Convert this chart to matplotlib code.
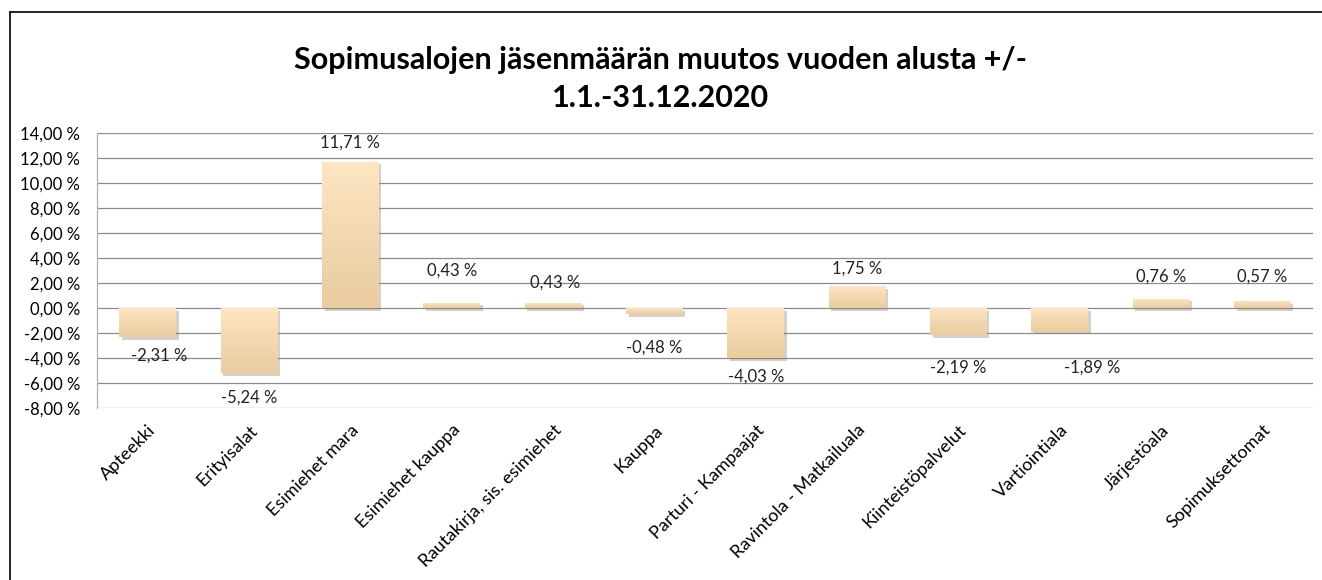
import numpy as np
import matplotlib.pyplot as plt
from matplotlib.lines import Line2D
from matplotlib.colors import LinearSegmentedColormap
import matplotlib.patheffects as pe

# ==========================================
# データ
# ==========================================
categories = ['Apteekki', 'Erityisalat', 'Esimiehet mara', 'Esimiehet kauppa',
              'Rautakirja, sis. esimiehet', 'Kauppa', 'Parturi - Kampaajat',
              'Ravintola - Matkailuala', 'Kiinteistöpalvelut', 'Vartiointiala',
              'Järjestöala', 'Sopimuksettomat']
values = [-2.31, -5.24, 11.71, 0.43, 0.43, -0.48, -4.03, 1.75, -2.19, -1.89, 0.76, 0.57]
y_ticks = [-8, -6, -4, -2, 0, 2, 4, 6, 8, 10, 12, 14]
title = 'Sopimusalojen jäsenmäärän muutos vuoden alusta +/-\n1.1.-31.12.2020'

# label nudges (pixels, relative to bar end)
label_dx = [12, 0, 0, 0, 2, 0, 1, 0, 0, 33, 0, 0]
label_dy = [-19, -24, 19, 32, 20, -34, -18, 18, -32, -36, 22, 24]

def fmt(v):
    return f'{v:.2f}'.replace('.', ',') + ' %'

plt.rcParams['font.family'] = ['Lato', 'DejaVu Sans']

fig = plt.figure(figsize=(13.22, 5.80), dpi=100)
ax = fig.add_axes([97/1322, 1-408/580, (1313-97)/1322, (408-133)/580])

x = np.arange(len(categories))
bw = 0.56
bars = ax.bar(x, values, width=bw, color='none', edgecolor='none', zorder=3)

cmap = LinearSegmentedColormap.from_list('peach', ['#fde6c3', '#e9cc9f'])
grad = np.linspace(0, 1, 256).reshape(-1, 1)
for b, v in zip(bars, values):
    x0 = b.get_x()
    top, bot = max(v, 0), min(v, 0)
    # 影付きの下地
    ax.bar(x0 + bw / 2, v, width=bw, color='#ffffff', zorder=2.9,
           path_effects=[pe.SimplePatchShadow(offset=(2, -2), shadow_rgbFace='#8a7a66', alpha=0.35)])
    im = ax.imshow(grad, cmap=cmap, aspect='auto', extent=(x0, x0 + bw, bot, top),
                   origin='upper', zorder=3)
    im.set_clip_path(b)

for i, v in enumerate(values):
    ax.annotate(fmt(v), (i, v), xytext=(label_dx[i], label_dy[i]), textcoords='offset pixels',
                ha='center', va='center', fontsize=12, color='#222222', zorder=5)

ax.set_xlim(-0.5, len(categories) - 0.5)
ax.set_ylim(-8, 14)
ax.set_yticks(y_ticks)
ax.set_yticklabels([fmt(t) for t in y_ticks], fontsize=12)
ax.set_xticks(x)
ax.set_xticklabels(categories, rotation=45, ha='right', rotation_mode='anchor', fontsize=13)
ax.tick_params(axis='both', length=0, pad=10)
ax.tick_params(axis='y', pad=12)
ax.yaxis.grid(True, color='#8c8c8c', linewidth=0.9, zorder=0)
ax.set_axisbelow(True)
for s in ['top', 'right', 'bottom']:
    ax.spines[s].set_visible(False)
ax.spines['left'].set_color('#b0b0b0')
ax.spines['left'].set_linewidth(0.9)

fig.text(0.5, 1 - 79/580, title, ha='center', va='center', fontsize=22, fontweight='bold',
         linespacing=1.45)

# 外枠 (左と上)
fig.add_artist(Line2D([10/1322, 10/1322], [0, 1 - 12/580], transform=fig.transFigure,
                      color='black', linewidth=1.2))
fig.add_artist(Line2D([10/1322, 1], [1 - 12/580, 1 - 12/580], transform=fig.transFigure,
                      color='black', linewidth=1.2))

fig.savefig('out.png', dpi=100)
